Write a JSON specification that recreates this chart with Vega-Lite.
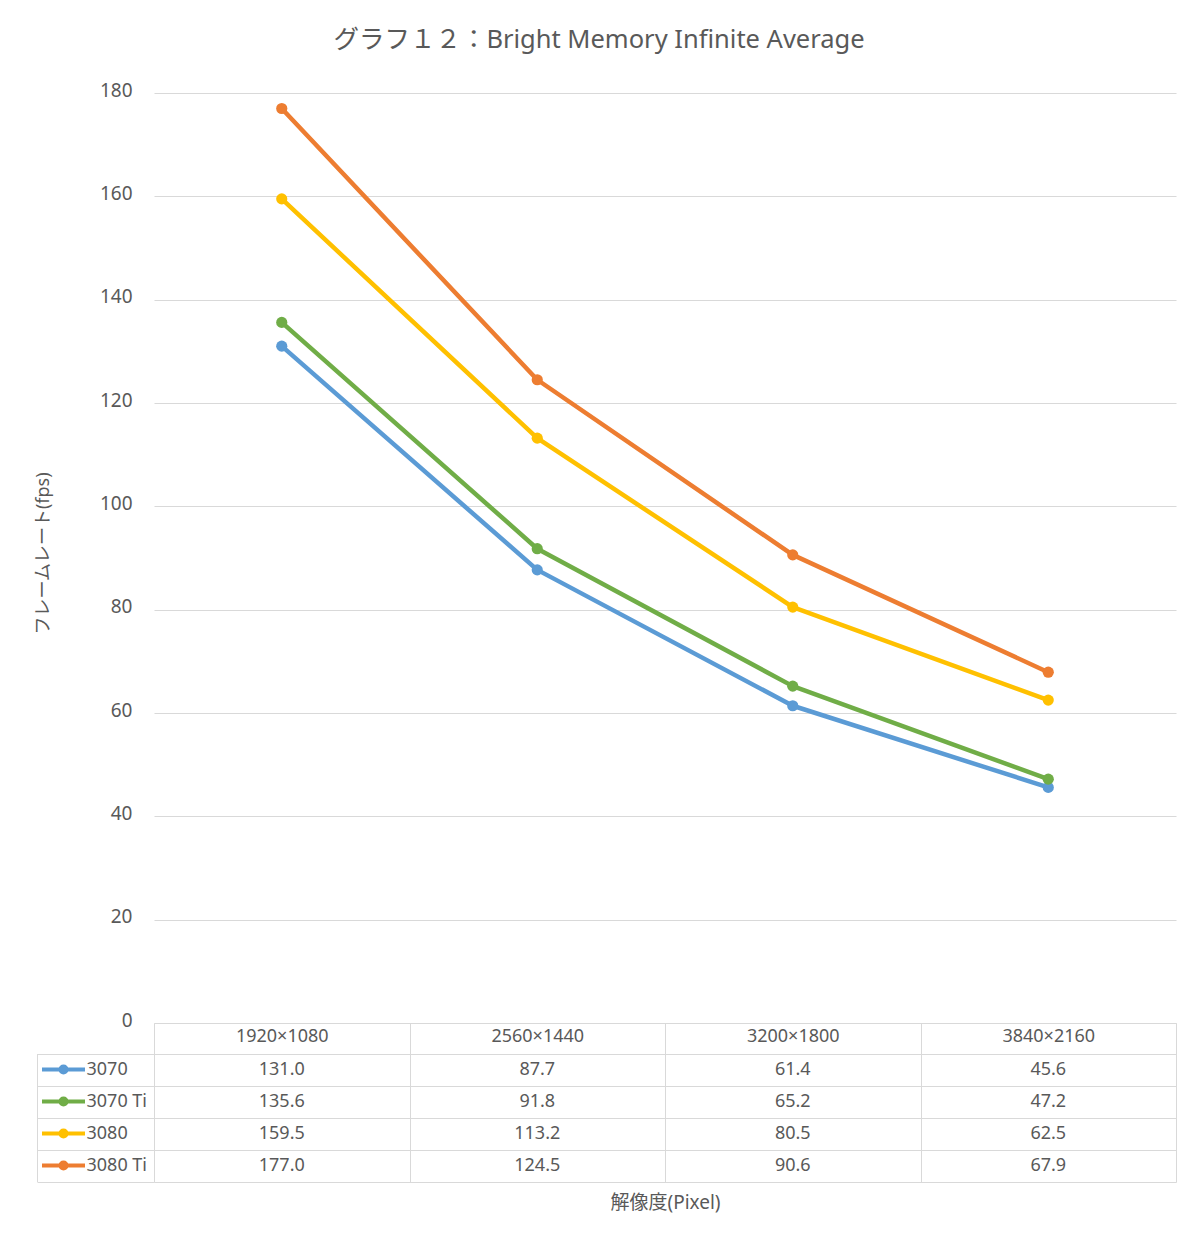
{
  "$schema": "https://vega.github.io/schema/vega-lite/v6.json",
  "width": 1022,
  "height": 930,
  "autosize": {"type": "none"},
  "padding": {"left": 154, "top": 93, "right": 24, "bottom": 225},
  "background": "white",
  "title": {
    "text": "グラフ１２：Bright Memory Infinite Average",
    "fontSize": 25.5,
    "font": "Noto Sans, Noto Sans CJK JP",
    "fontWeight": "normal",
    "color": "#595959",
    "anchor": "middle",
    "baseline": "bottom",
    "dx": -66,
    "offset": 3
  },
  "config": {"font": "Noto Sans, Noto Sans CJK JP", "view": {"stroke": null}},
  "data": {
    "values": [
      {"series": "3070", "res": "1920×1080", "fps": 131.0},
      {"series": "3070", "res": "2560×1440", "fps": 87.7},
      {"series": "3070", "res": "3200×1800", "fps": 61.4},
      {"series": "3070", "res": "3840×2160", "fps": 45.6},
      {"series": "3070 Ti", "res": "1920×1080", "fps": 135.6},
      {"series": "3070 Ti", "res": "2560×1440", "fps": 91.8},
      {"series": "3070 Ti", "res": "3200×1800", "fps": 65.2},
      {"series": "3070 Ti", "res": "3840×2160", "fps": 47.2},
      {"series": "3080", "res": "1920×1080", "fps": 159.5},
      {"series": "3080", "res": "2560×1440", "fps": 113.2},
      {"series": "3080", "res": "3200×1800", "fps": 80.5},
      {"series": "3080", "res": "3840×2160", "fps": 62.5},
      {"series": "3080 Ti", "res": "1920×1080", "fps": 177.0},
      {"series": "3080 Ti", "res": "2560×1440", "fps": 124.5},
      {"series": "3080 Ti", "res": "3200×1800", "fps": 90.6},
      {"series": "3080 Ti", "res": "3840×2160", "fps": 67.9}
    ]
  },
  "layer": [
    {
      "layer": [
        {
          "mark": {"type": "line", "strokeWidth": 4.5, "strokeCap": "round", "strokeJoin": "round"},
          "encoding": {
            "x": {
              "field": "res", "type": "nominal", "bandPosition": 0.5,
              "scale": {"type": "band", "domain": ["1920×1080", "2560×1440", "3200×1800", "3840×2160"], "paddingInner": 0, "paddingOuter": 0},
              "axis": {
                "orient": "bottom", "offset": 0, "grid": false,
                "domain": true, "domainColor": "#D9D9D9", "domainWidth": 1,
                "ticks": true, "tickBand": "extent", "tickSize": 159, "tickColor": "#D9D9D9", "tickWidth": 1,
                "labelPadding": -146, "labelBaseline": "middle", "labelAngle": 0,
                "labelFontSize": 18, "labelColor": "#595959",
                "title": "解像度(Pixel)", "titleFontSize": 19, "titleFontWeight": "normal",
                "titleColor": "#595959", "titleY": 179, "titleBaseline": "middle"
              }
            },
            "y": {
              "field": "fps", "type": "quantitative",
              "scale": {"domain": [0, 180], "nice": false, "zero": true},
              "axis": {
                "values": [0, 20, 40, 60, 80, 100, 120, 140, 160, 180],
                "grid": true, "gridColor": "#D9D9D9", "gridWidth": 1,
                "domain": false, "ticks": false,
                "labelPadding": 22, "labelFontSize": 19, "labelColor": "#595959", "labelOffset": -3,
                "title": "フレームレート(fps)", "titleFontSize": 18, "titleFontWeight": "normal",
                "titleColor": "#595959", "titleX": -111, "titleY": 460,
                "titleAlign": "center", "titleBaseline": "middle", "titleAngle": 270
              }
            },
            "color": {
              "field": "series", "type": "nominal",
              "scale": {"domain": ["3070", "3070 Ti", "3080", "3080 Ti"], "range": ["#5B9BD5", "#70AD47", "#FFC000", "#ED7D31"]},
              "legend": {
                "orient": "none", "legendX": -114.5, "legendY": 960.5, "title": null,
                "symbolType": "M-4.3,0L4.3,0M0.6,0A0.6,0.6,0,1,1,-0.6,0A0.6,0.6,0,1,1,0.6,0M0.2,0A0.2,0.2,0,1,1,-0.2,0A0.2,0.2,0,1,1,0.2,0",
                "symbolSize": 100, "symbolStrokeWidth": 4, "symbolOffset": 15,
                "labelFontSize": 18, "labelColor": "#595959", "labelOffset": 14,
                "clipHeight": 32, "rowPadding": 0, "padding": 0, "labelBaseline": "middle"
              }
            }
          }
        },
        {
          "mark": {"type": "circle", "size": 125, "opacity": 1},
          "encoding": {
            "x": {"field": "res", "type": "nominal", "bandPosition": 0.5},
            "y": {"field": "fps", "type": "quantitative"},
            "color": {"field": "series", "type": "nominal"}
          }
        }
      ]
    },
    {
      "mark": {"type": "text", "fontSize": 18, "color": "#595959", "baseline": "middle"},
      "encoding": {
        "x": {"field": "res", "type": "nominal", "bandPosition": 0.5},
        "y": {
          "field": "series", "type": "nominal", "bandPosition": 0.5,
          "scale": {"type": "band", "domain": ["3070", "3070 Ti", "3080", "3080 Ti"], "range": [960.5, 1088.5], "paddingInner": 0, "paddingOuter": 0},
          "axis": {
            "orient": "left", "offset": 117, "tickBand": "extent",
            "ticks": true, "tickSize": -117, "tickColor": "#D9D9D9", "tickWidth": 1,
            "grid": true, "gridColor": "#D9D9D9", "gridWidth": 1,
            "domain": true, "domainColor": "#D9D9D9", "domainWidth": 1,
            "labels": false, "title": null
          }
        },
        "text": {"field": "fps", "type": "quantitative", "format": ".1f"}
      }
    }
  ],
  "resolve": {"scale": {"y": "independent"}}
}
